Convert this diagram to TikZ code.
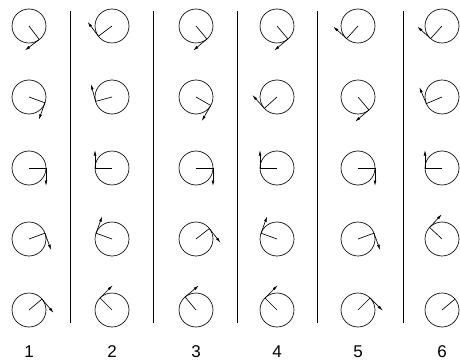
\documentclass[tikz,border=0pt]{standalone}
\usepackage{fontspec}
\setsansfont{Liberation Sans}
\usetikzlibrary{arrows.meta}

\begin{document}
\begin{tikzpicture}[
  x=1pt, y=1pt, line width=0.65pt,
  wheel/.style={draw, circle, minimum size=34pt, inner sep=0pt, outer sep=0pt},
  pf/.style={-{Latex[length=5.5pt,width=2.8pt]}},
  sep/.style={line width=0.6pt},
  num/.style={font=\sffamily\fontsize{17}{20}\selectfont}
]
\useasboundingbox (0,0) rectangle (460,362);
% separators between the columns
\foreach \x in {70,153,237,317,403}
  \draw[sep] (\x,351) -- (\x,39);
% column / x / mark angle and arrow flag, top to bottom
\foreach \c/\x/\angles in {
    1/29/{-53/1,-20/1,0/1,20/1,40/1},
    2/112/{217/1,195/1,180/1,160/1,135/1},
    3/196/{-50/1,-30/1,0/1,38/1,130/1},
    4/277/{-50/1,222/1,180/1,160/1,135/1},
    5/358/{228/1,-50/1,0/1,20/1,45/1},
    6/442/{228/1,203/1,180/1,137/1,40/0}}{
  \node[num] (n\c) at (\x,10) {\c};
  \foreach \a/\t [count=\r] in \angles {
    \node[wheel] (w\c\r) at (\x,{407-71*\r}) {};
    \draw (w\c\r.center) -- (w\c\r.\a);
    \ifnum\t=1
      \path (w\c\r.\a) ++(\a-90:18) coordinate (t\c\r);
      \draw[pf] (w\c\r.\a) -- (t\c\r);
    \fi
  }
}
\end{tikzpicture}
\end{document}
